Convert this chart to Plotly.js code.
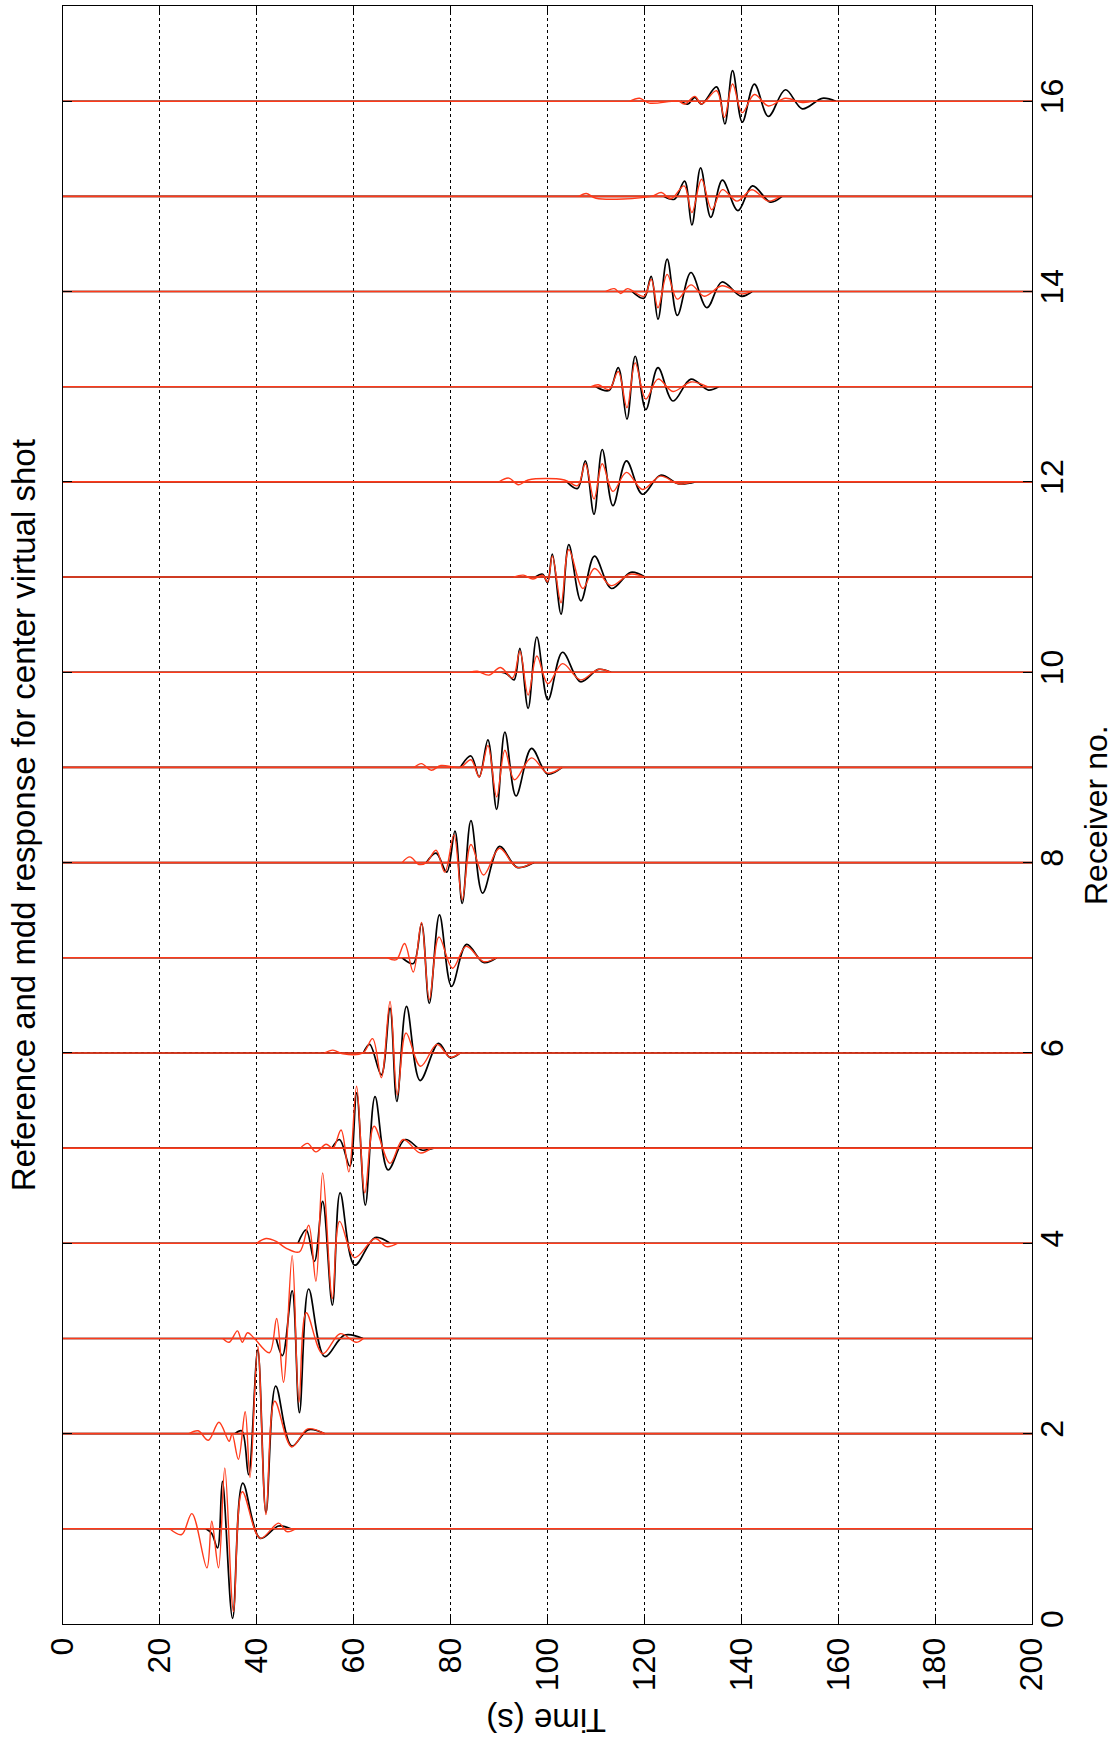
<!DOCTYPE html>
<html><head><meta charset="utf-8">
<script src="https://cdn.plot.ly/plotly-3.0.1.min.js"></script>
<style>html,body{margin:0;padding:0;background:#fff}#chart{width:1117px;height:1742px}</style>
</head><body><div id="chart"></div>
<script>
// ---- data (time in s, amplitude in receiver units) ----
const timeTicks = [0, 20, 40, 60, 80, 100, 120, 140, 160, 180, 200];
const receiverTicks = [0, 2, 4, 6, 8, 10, 12, 14, 16];
const receivers = [1, 2, 3, 4, 5, 6, 7, 8, 9, 10, 11, 12, 13, 14, 15, 16];
const timeSpan = [0, 200];

// reference (black) wiggles: [time, amplitude]
const ref01 = [[29.5,0],[30.7,-0.05],[31.9,-0.2],[32.9,0.5],[35.0,-0.94],[37.1,0.48],[40.7,-0.1],[44.5,0.03],[47,0]];
const ref02 = [[35.5,0],[36.9,0.03],[38.3,-0.43],[40.2,0.88],[41.9,-0.83],[43.9,0.5],[47.2,-0.13],[50.6,0.04],[54,0]];
const ref03 = [[44,0],[45.3,-0.18],[47.3,0.5],[48.8,-0.78],[50.7,0.52],[54.0,-0.19],[58.1,0.035],[61.9,0]];
const ref04 = [[48.5,0],[50.2,0.14],[51.9,-0.19],[53.6,0.44],[55.6,-0.65],[57.2,0.53],[60.2,-0.23],[64.4,0.06],[67.5,0]];
const ref05 = [[55.5,0],[57.1,0.09],[59.2,-0.19],[60.6,0.58],[62.4,-0.6],[64.4,0.54],[67.1,-0.23],[70.6,0.09],[74.0,-0.02],[76.5,0]];
const ref06 = [[62,0],[63.3,0.09],[65.7,-0.23],[67.5,0.47],[68.9,-0.51],[70.9,0.49],[73.7,-0.29],[77.5,0.1],[79.9,-0.05],[82,0]];
const ref07 = [[70,0],[72.3,-0.06],[74.0,0.36],[75.6,-0.48],[77.7,0.45],[80.2,-0.3],[83.3,0.14],[86.8,-0.05],[89.5,0]];
const ref08 = [[75,0],[77.0,0.1],[79.2,-0.1],[80.9,0.33],[82.4,-0.43],[84.2,0.44],[86.6,-0.32],[90.1,0.17],[93.7,-0.05],[97.2,0]];
const ref09 = [[82,0],[84.2,0.12],[85.9,-0.1],[87.7,0.29],[89.5,-0.44],[91.2,0.37],[93.5,-0.3],[96.7,0.2],[100.0,-0.07],[103,0]];
const ref10 = [[90.5,0],[91.7,-0.02],[93.1,-0.08],[94.3,0.25],[96.0,-0.38],[97.8,0.37],[100.1,-0.29],[103.1,0.21],[106.8,-0.1],[110.5,0.03],[113.1,0]];
const ref11 = [[97.5,0],[99.0,0.03],[100.0,-0.06],[101.0,0.24],[102.8,-0.39],[104.4,0.34],[106.9,-0.25],[109.7,0.22],[113.2,-0.12],[117.2,0.05],[120.1,0]];
const ref12 = [[104,0],[106.2,-0.07],[107.8,0.22],[109.6,-0.34],[111.3,0.34],[113.5,-0.25],[116.3,0.22],[119.6,-0.13],[123.3,0.07],[127.1,-0.02],[130.5,0]];
const ref13 = [[110,0],[112.7,-0.04],[114.6,0.2],[116.4,-0.34],[118.1,0.32],[120.3,-0.24],[122.8,0.2],[125.9,-0.15],[129.6,0.08],[133.2,-0.035],[135.3,0]];
const ref14 = [[117.5,0],[119.9,-0.07],[121.4,0.16],[122.8,-0.29],[124.7,0.34],[126.8,-0.25],[129.6,0.2],[132.9,-0.17],[136.0,0.1],[140.0,-0.05],[142.2,0]];
const ref15 = [[124,0],[126.2,-0.03],[128.3,0.16],[129.8,-0.3],[131.6,0.3],[133.7,-0.22],[136.1,0.17],[139.3,-0.15],[142.3,0.11],[146.0,-0.06],[148.4,0]];
const ref16 = [[127.5,0],[129.0,-0.03],[130.4,0.04],[131.8,-0.03],[134.9,0.15],[136.6,-0.24],[138.2,0.32],[140.2,-0.22],[142.7,0.18],[145.6,-0.16],[149.1,0.12],[152.6,-0.08],[156.7,0.03],[159.5,0]];

// mdd (red) wiggles: [time, amplitude]
const mdd01 = [[22,0],[24.5,-0.06],[26.6,0.16],[29.7,-0.41],[30.7,0.08],[32.1,-0.41],[33.4,0.64],[35.2,-0.87],[37.0,0.39],[40.7,-0.1],[44.5,0.06],[46.2,-0.03],[48,0]];
const mdd02 = [[26,0],[27.9,0.03],[30.0,-0.07],[32.2,0.12],[34.3,-0.08],[34.9,0.0],[36.2,-0.27],[37.6,0.23],[38.6,-0.46],[40.2,0.92],[41.9,-0.85],[43.7,0.34],[47.2,-0.14],[50.5,0.05],[54,0]];
const mdd03 = [[33,0],[34.3,-0.04],[36.0,0.08],[37.0,-0.04],[38.1,0.06],[39.5,0],[42.6,-0.15],[44.1,0.21],[45.5,-0.46],[47.3,0.87],[48.7,-0.67],[50.2,0.27],[53.6,-0.16],[57.2,0.05],[60.5,-0.04],[62,0]];
const mdd04 = [[40,0],[41.9,0.05],[44.0,0.02],[46.0,-0.05],[48.8,-0.09],[50.7,0.19],[52.2,-0.4],[53.6,0.74],[55.6,-0.58],[57.1,0.23],[60.2,-0.15],[64.4,0.05],[66.8,-0.035],[69,0]];
const mdd05 = [[49,0],[50.5,0.05],[52.2,-0.04],[54.3,0.04],[55.7,0.0],[57.4,0.19],[59.0,-0.25],[60.6,0.65],[62.3,-0.47],[64.2,0.23],[67.5,-0.16],[70.2,0.09],[73.7,-0.05],[76,0]];
const mdd06 = [[54,0],[55.7,0.03],[57.8,-0.01],[61.9,0],[63.9,0.15],[65.7,-0.26],[67.5,0.54],[69.0,-0.44],[70.8,0.21],[73.8,-0.14],[77.2,0.09],[79.9,-0.045],[82,0]];
const mdd07 = [[67,0],[68.8,-0.02],[70.5,0.15],[72.3,-0.15],[74.0,0.37],[75.6,-0.44],[77.6,0.22],[80.4,-0.11],[83.2,0.12],[86.8,-0.04],[89.5,0]];
const mdd08 = [[70,0],[71.6,0.06],[73.5,-0.02],[75.0,0],[77.0,0.13],[78.8,-0.1],[80.7,0.29],[82.4,-0.39],[84.2,0.19],[86.8,-0.13],[90.1,0.15],[93.7,-0.05],[97,0]];
const mdd09 = [[72.5,0],[74,0.04],[76,-0.03],[78,0.02],[82,0],[84.2,0.08],[85.9,-0.1],[87.7,0.23],[89.5,-0.31],[91.2,0.18],[93.2,-0.13],[96.7,0.1],[100.0,-0.06],[103,0]];
const mdd10 = [[84,0],[85.5,0.01],[87.9,-0.03],[90.3,0.05],[92.8,-0.06],[94.3,0.22],[96.0,-0.24],[97.8,0.17],[100.1,-0.12],[103.1,0.09],[106.8,-0.08],[110.5,0.03],[113,0]];
const mdd11 = [[93,0],[95,0.02],[97,-0.02],[99.0,0.02],[100.0,-0.05],[101.0,0.22],[102.8,-0.27],[104.4,0.29],[107.3,-0.12],[109.7,0.09],[113.1,-0.09],[117.0,0.03],[120,0]];
const mdd12 = [[90,0],[92,0.04],[94,-0.03],[96,0.02],[103.5,0.02],[106.2,-0.04],[107.8,0.19],[109.6,-0.18],[111.3,0.19],[113.5,-0.1],[116.3,0.1],[119.6,-0.08],[123.3,0.06],[127.0,-0.02],[130,0]];
const mdd13 = [[109,0],[110.5,0.02],[112.7,-0.03],[114.6,0.16],[116.4,-0.22],[118.1,0.25],[120.3,-0.13],[122.8,0.08],[125.9,-0.05],[129.6,0.05],[133,0]];
const mdd14 = [[112,0],[113.8,0.03],[115.1,-0.02],[116.5,0.03],[119.9,-0.05],[121.4,0.13],[122.8,-0.17],[124.7,0.18],[126.8,-0.08],[129.6,0.07],[132.4,-0.05],[136.0,0.06],[140.0,-0.025],[142,0]];
const mdd15 = [[106.5,0],[108,0.03],[110,-0.02],[121.4,0],[123.5,0.04],[125.5,-0.025],[128.2,0.11],[129.8,-0.17],[131.8,0.18],[133.9,-0.14],[136.1,0.07],[139.1,-0.05],[142.2,0.07],[145.6,-0.05],[148,0]];
const mdd16 = [[117,0],[119,0.03],[121,-0.02],[127,0],[128.3,-0.03],[130.4,0.05],[131.8,-0.03],[134.9,0.11],[136.5,-0.17],[138.2,0.18],[140.2,-0.12],[142.7,0.07],[145.6,-0.05],[149.1,0.03],[152.6,-0.015],[155,0]];

const refList = [ref01,ref02,ref03,ref04,ref05,ref06,ref07,ref08,ref09,ref10,ref11,ref12,ref13,ref14,ref15,ref16];
const mddList = [mdd01,mdd02,mdd03,mdd04,mdd05,mdd06,mdd07,mdd08,mdd09,mdd10,mdd11,mdd12,mdd13,mdd14,mdd15,mdd16];

// ---- build traces ----
function wiggles(list) {
  const x = [], y = [];
  list.forEach((pts, i) => {
    const r = receivers[i];
    pts.forEach(p => { x.push(p[0]); y.push(r + p[1]); });
    x.push(null); y.push(null);
  });
  return {x, y};
}
function baselines() {
  const x = [], y = [];
  receivers.forEach(r => { x.push(timeSpan[0], timeSpan[1], null); y.push(r, r, null); });
  return {x, y};
}
const BLACK = '#000000', RED = '#ff3a1a';
const bl = baselines(), rw = wiggles(refList), mw = wiggles(mddList);
const traces = [
  {type:'scatter', mode:'lines', x:bl.x, y:bl.y, line:{color:BLACK, width:1.6}, hoverinfo:'skip', connectgaps:false},
  {type:'scatter', mode:'lines', x:rw.x, y:rw.y, line:{color:BLACK, width:1.7, shape:'spline', smoothing:1}, connectgaps:false, name:'Reference'},
  {type:'scatter', mode:'lines', x:bl.x, y:bl.y, line:{color:RED, width:1.6}, hoverinfo:'skip', connectgaps:false},
  {type:'scatter', mode:'lines', x:mw.x, y:mw.y, line:{color:RED, width:1.4, shape:'spline', smoothing:1}, connectgaps:false, name:'mdd'}
];

const FONT = 'Liberation Sans, Arial, Helvetica, sans-serif';
const axisCommon = {
  ticks:'inside', ticklen:9, tickwidth:1, tickcolor:'#000', mirror:'allticks',
  showline:true, linecolor:'#000', linewidth:1,
  showgrid:true, gridcolor:'#000', gridwidth:1, griddash:'dot',
  zeroline:false, fixedrange:true, tickangle:-90,
  tickfont:{family:FONT, size:32, color:'#000'}
};
const layout = {
  width:1117, height:1742,
  margin:{l:63, r:85, t:6, b:118, pad:0},
  paper_bgcolor:'#fff', plot_bgcolor:'#fff', showlegend:false,
  font:{family:FONT, size:33, color:'#000'},
  xaxis: Object.assign({}, axisCommon, {range:[0,200], tickvals:timeTicks, ticktext:timeTicks.map(String), ticklabelstandoff:0}),
  yaxis: Object.assign({}, axisCommon, {range:[0,17], side:'right', tickvals:receiverTicks, ticktext:receiverTicks.map(String), ticklabelstandoff:-8}),
  annotations:[
    {text:'Reference and mdd response for center virtual shot', xref:'paper', yref:'paper', x:-0.041, y:0.5,
     xanchor:'center', yanchor:'middle', textangle:-90, showarrow:false, font:{family:FONT, size:33, color:'#000'}},
    {text:'Receiver no.', xref:'paper', yref:'paper', x:(1116-63)/969, y:0.5,
     xanchor:'right', yanchor:'middle', textangle:-90, showarrow:false, font:{family:FONT, size:32, color:'#000'}},
    {text:'Time (s)', xref:'paper', yref:'paper', x:0.4985, y:-0.0593,
     xanchor:'center', yanchor:'middle', textangle:180, showarrow:false, font:{family:FONT, size:33, color:'#000'}}
  ]
};
Plotly.newPlot('chart', traces, layout, {staticPlot:true, displayModeBar:false});
</script>
</body></html>
